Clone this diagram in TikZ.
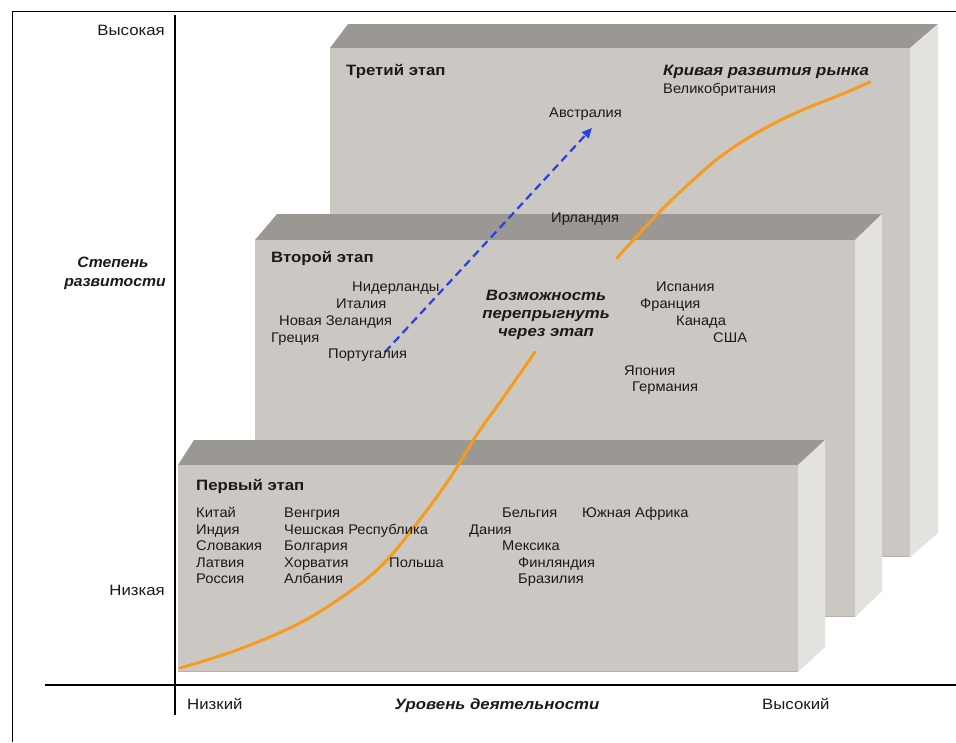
\documentclass[tikz,border=0pt]{standalone}
\usepackage{fontspec}
\setmainfont{Liberation Sans}
\newfontfamily\boxfont{Liberation Sans}[FakeStretch=1.05]
\newfontfamily\widefont{Liberation Sans}[FakeStretch=1.12]
\usetikzlibrary{arrows.meta}
\definecolor{frontc}{HTML}{CBC8C3}
\definecolor{topc}{HTML}{9B9893}
\definecolor{sidec}{HTML}{E4E2DF}
\definecolor{edgec}{HTML}{B5B2AD}
\definecolor{curvec}{HTML}{F59B1E}
\definecolor{arrowc}{HTML}{2A3FE6}
\definecolor{txt}{HTML}{1A1A1A}
\tikzset{
  lbl/.style={font=\boxfont\fontsize{14}{16}\selectfont, text=txt, inner sep=0pt, anchor=base west},
  ticklbl/.style={font=\widefont\fontsize{15}{17}\selectfont, text=txt, inner sep=0pt, anchor=base west},
  stage/.style={font=\widefont\fontsize{15}{17}\selectfont\bfseries, text=txt, inner sep=0pt, anchor=base west},
  emph/.style={font=\widefont\fontsize{15}{17}\selectfont\bfseries\itshape, text=txt, inner sep=0pt, anchor=base},
  yemph/.style={font=\boxfont\fontsize{15}{17}\selectfont\bfseries\itshape, text=txt, inner sep=0pt, anchor=base},
  frontface/.style={fill=frontc},
  topface/.style={fill=topc},
  sideface/.style={fill=sidec},
  axis/.style={draw=black, line width=1.2pt},
  mcurve/.style={draw=curvec, line width=3pt, line cap=round},
  jump/.style={draw=arrowc, line width=2.2pt, dash pattern=on 8pt off 5pt, -{Triangle[length=10pt,width=9pt]}}
}
% box: left x, top y, right x, bottom y, depth-left, depth-right, depth-y
\newcommand{\stagebox}[7]{%
  \fill[topface] (#1,#2) -- (#1+#5,#2-#7) -- (#3+#6,#2-#7) -- (#3,#2) -- cycle;
  \fill[sideface] (#3,#2) -- (#3+#6,#2-#7) -- (#3+#6,#4-#7) -- (#3,#4) -- cycle;
  \fill[frontface] (#1,#2) rectangle (#3,#4);
  \draw[edgec, line width=1.2pt] (#1,#4-0.6) -- (#3,#4-0.6);
}
\begin{document}
\begin{tikzpicture}[x=1pt,y=-1pt]
\useasboundingbox (0,0) rectangle (956,742);
\fill[white] (0,0) rectangle (956,742);
% frame
\draw[black, line width=1pt] (12,742) -- (12,11) -- (956,11);
% boxes (back to front)
\stagebox{330}{48}{910}{557}{18}{28}{24}
\stagebox{255}{240}{855}{617}{22}{27}{26}
\stagebox{178}{465}{798}{672}{16}{27}{25}
% axes
\draw[axis] (175,15) -- (175,715);
\draw[axis] (45,685) -- (956,685);
% market curve
\draw[mcurve] plot[smooth, tension=0.6] coordinates {(180,668) (237,650) (300,623) (352,590) (385,562) (418,522) (450,478) (478,433) (503,398) (535,352)};
\draw[mcurve] plot[smooth, tension=0.6] coordinates {(617,258) (650,222) (680,192) (720,157) (760,131) (800,111) (840,95) (870,82)};
% jump arrow
\coordinate (arrS) at (385,352);
\coordinate (arrE) at (592,128);
\draw[jump] (arrS) -- (arrE);
% axis labels
\node[ticklbl, anchor=base east] (hiY) at (165,35) {Высокая};
\node[ticklbl, anchor=base east] (loY) at (165,595) {Низкая};
\node[yemph] (yl1) at (113,267) {Степень};
\node[yemph] (yl2) at (115,286) {развитости};
\node[ticklbl] (loX) at (187,709) {Низкий};
\node[emph] (xl) at (497,709) {Уровень деятельности};
\node[ticklbl] (hiX) at (762,709) {Высокий};
% stage 3
\node[stage] (s3) at (346,75) {Третий этап};
\node[emph, anchor=base west] (curveT) at (663,75) {Кривая развития рынка};
\node[lbl] (gb) at (663,93) {Великобритания};
\node[lbl] (au) at (549,117) {Австралия};
\node[lbl] (ie) at (551,222) {Ирландия};
% stage 2
\node[stage] (s2) at (271,262) {Второй этап};
\node[lbl] (nl) at (352,291) {Нидерланды};
\node[lbl] (it) at (336,308) {Италия};
\node[lbl] (nz) at (279,325) {Новая Зеландия};
\node[lbl] (gr) at (271,342) {Греция};
\node[lbl] (pt) at (328,358) {Португалия};
\node[emph] (j1) at (546,300) {Возможность};
\node[emph] (j2) at (546,318) {перепрыгнуть};
\node[emph] (j3) at (546,336) {через этап};
\node[lbl] (es) at (656,291) {Испания};
\node[lbl] (fr) at (640,308) {Франция};
\node[lbl] (ca) at (676,325) {Канада};
\node[lbl] (us) at (713,342) {США};
\node[lbl] (jp) at (624,375) {Япония};
\node[lbl] (de) at (632,391) {Германия};
% stage 1
\node[stage] (s1) at (196,490) {Первый этап};
\node[lbl] (cn) at (196,517) {Китай};
\node[lbl] (in) at (196,534) {Индия};
\node[lbl] (sk) at (196,550) {Словакия};
\node[lbl] (lv) at (196,567) {Латвия};
\node[lbl] (ru) at (196,583) {Россия};
\node[lbl] (hu) at (284,517) {Венгрия};
\node[lbl] (cz) at (284,534) {Чешская Республика};
\node[lbl] (bg) at (284,550) {Болгария};
\node[lbl] (hr) at (284,567) {Хорватия};
\node[lbl] (al) at (284,583) {Албания};
\node[lbl] (pl) at (389,567) {Польша};
\node[lbl] (be) at (502,517) {Бельгия};
\node[lbl] (za) at (582,517) {Южная Африка};
\node[lbl] (dk) at (469,534) {Дания};
\node[lbl] (mx) at (502,550) {Мексика};
\node[lbl] (fi) at (518,567) {Финляндия};
\node[lbl] (br) at (518,583) {Бразилия};
\end{tikzpicture}
\end{document}
